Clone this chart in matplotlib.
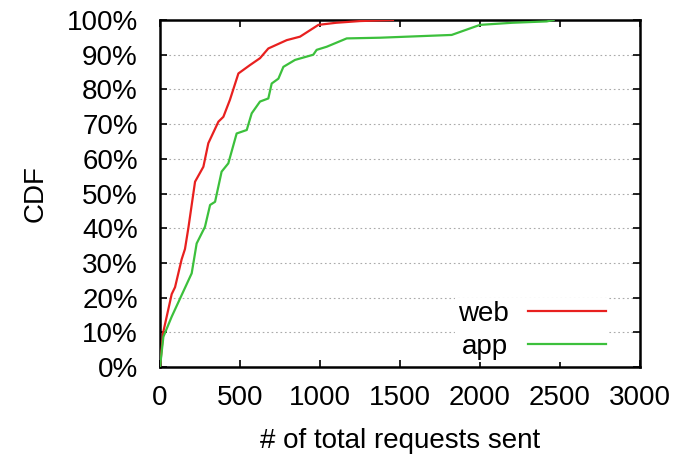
import matplotlib
matplotlib.use("Agg")
import matplotlib.pyplot as plt
from matplotlib.ticker import FuncFormatter

plt.rcParams['font.family'] = ['Liberation Sans', 'DejaVu Sans']

web_x = [0, 20, 73, 94, 135, 156, 177, 219, 271, 302, 365, 396, 437, 490, 562, 625, 677, 792, 875, 990, 1100, 1250, 1456]
web_y = [0, 10, 21, 23, 31, 34, 40, 53.4, 57.7, 64.5, 70.7, 72.1, 77, 84.6, 87, 89, 91.8, 94.2, 95.2, 98.6, 99.2, 99.7, 100]

app_x = [0, 21, 73, 198, 229, 281, 313, 344, 385, 427, 479, 542, 573, 625, 677, 698, 740, 771, 844, 958, 979, 1042, 1167, 1375, 1823, 2000, 2200, 2417, 2460]
app_y = [0, 8.7, 14.5, 27, 35.6, 40.4, 46.7, 47.6, 56.3, 58.7, 67.3, 68.3, 73.1, 76.5, 77.4, 81.7, 83.1, 86.5, 88.5, 90, 91.4, 92.3, 94.7, 94.9, 95.7, 98.6, 99.2, 99.6, 100]

x_ticks = [0, 500, 1000, 1500, 2000, 2500, 3000]
y_ticks = [0, 10, 20, 30, 40, 50, 60, 70, 80, 90, 100]

fig = plt.figure(figsize=(6.93, 4.58), dpi=100)
ax = fig.add_axes([0.2309, 0.1987, 0.6926, 0.7576])

for y in y_ticks[1:-1]:
    ax.axhline(y, color='#aaaaaa', lw=0.8, ls=(0, (1.5, 2.5)), zorder=0)

ax.plot(web_x, web_y, color='#e8201f', lw=1.6, label='web', zorder=3)
ax.plot(app_x, app_y, color='#3cc03c', lw=1.6, label='app', zorder=3)

ax.set_xlim(0, 3000)
ax.set_ylim(0, 100)
ax.set_xticks(x_ticks)
ax.set_yticks(y_ticks)
ax.yaxis.set_major_formatter(FuncFormatter(lambda v, p: f"{int(v)}%"))
ax.tick_params(direction='in', length=5, width=1.2, top=True, right=True, labelsize=20, colors='black')
ax.tick_params(axis='x', pad=13)
ax.tick_params(axis='y', pad=16)
for s in ax.spines.values():
    s.set_linewidth(1.8)

ax.set_xlabel('# of total requests sent', fontsize=20, labelpad=12)
ax.set_ylabel('CDF', fontsize=20, labelpad=13)

leg = ax.legend(loc='lower right', bbox_to_anchor=(0.933, 0.014), markerfirst=False,
                fontsize=20, frameon=True,
                handlelength=2.8, handletextpad=0.7, labelspacing=0.26,
                borderaxespad=0.0, borderpad=0.08, fancybox=False)
leg.get_frame().set_facecolor('white')
leg.get_frame().set_edgecolor('none')
leg.get_frame().set_alpha(1)

fig.savefig('out.png', dpi=100)
